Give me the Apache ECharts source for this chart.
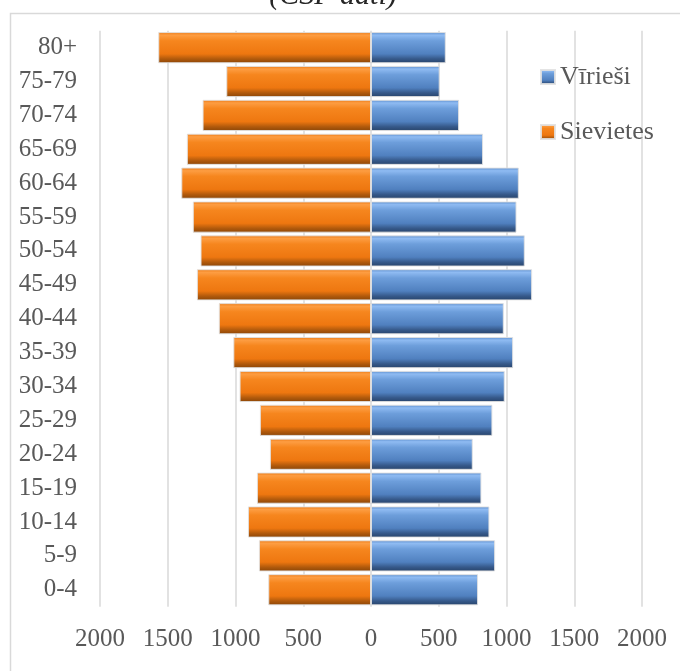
<!DOCTYPE html>
<html>
<head>
<meta charset="utf-8">
<script src="https://cdn.jsdelivr.net/npm/echarts@6/dist/echarts.min.js"></script>
<style>
html,body{margin:0;padding:0;background:#fff;}
#c{width:680px;height:671px;}
</style>
</head>
<body>
<div id="c"></div>
<script>
var categories = ['0-4','5-9','10-14','15-19','20-24','25-29','30-34','35-39','40-44','45-49','50-54','55-59','60-64','65-69','70-74','75-79','80+'];
var maleValues = [790, 916, 874, 815, 751, 896, 987, 1049, 980, 1189, 1135, 1074, 1091, 827, 650, 507, 552];
var femaleValues = [758, 827, 908, 842, 746, 820, 970, 1016, 1123, 1285, 1258, 1315, 1400, 1359, 1243, 1068, 1570];
var seriesNames = ['Vīrieši', 'Sievietes'];
var titleText = '(CSP dati)';

var FONT = '"Liberation Serif", "Times New Roman", serif';

function grad(stops) {
  return new echarts.graphic.LinearGradient(0, 0, 0, 1, stops.map(function (s) { return { offset: s[0], color: s[1] }; }));
}
var blueFill = grad([[0, '#5a8ccc'], [0.1, '#8fbbf2'], [0.28, '#6d9edb'], [0.7, '#5080bf'], [0.86, '#36598a'], [1, '#27436a']]);
var orangeFill = grad([[0, '#ec7811'], [0.1, '#fd9d42'], [0.28, '#f6861e'], [0.7, '#ee7710'], [0.86, '#b25a0c'], [1, '#8a4507']]);

var chart = echarts.init(document.getElementById('c'));
chart.setOption({
  animation: false,
  graphic: [
    {
      type: 'rect',
      shape: { x: 10.5, y: 13.5, width: 720, height: 720 },
      style: { fill: 'none', stroke: '#d9d9d9', lineWidth: 1.5 },
      silent: true
    },
    {
      type: 'text',
      x: 333, y: -4,
      style: {
        text: titleText,
        align: 'center', verticalAlign: 'middle',
        font: 'italic 30px ' + FONT,
        fill: '#262626'
      },
      silent: true
    }
  ],
  legend: {
    orient: 'vertical',
    left: 535,
    top: 59,
    itemWidth: 14,
    itemHeight: 14,
    itemGap: 29,
    icon: 'rect',
    data: seriesNames,
    textStyle: { fontFamily: FONT, fontSize: 26, color: '#595959' }
  },
  grid: { left: 100, right: 38, top: 30.7, bottom: 64.3 },
  xAxis: {
    type: 'value',
    min: -2000, max: 2000, interval: 500,
    axisLine: { show: false },
    axisTick: { show: false },
    splitLine: { show: true, lineStyle: { color: '#d9d9d9', width: 1.5 } },
    axisLabel: {
      margin: 20,
      fontFamily: FONT, fontSize: 25, color: '#595959',
      formatter: function (v) { return String(Math.abs(v)); }
    }
  },
  yAxis: {
    type: 'category',
    data: categories,
    axisLine: { show: false },
    axisTick: { show: false },
    axisLabel: { margin: 23, fontFamily: FONT, fontSize: 25, color: '#595959' }
  },
  series: [
    {
      name: seriesNames[0],
      type: 'bar',
      data: maleValues,
      barGap: '-100%',
      barCategoryGap: '8%',
      itemStyle: { color: blueFill, borderColor: 'rgba(225,225,225,0.9)', borderWidth: 1 }
    },
    {
      name: seriesNames[1],
      type: 'bar',
      data: femaleValues.map(function (v) { return -v; }),
      barGap: '-100%',
      barCategoryGap: '8%',
      itemStyle: { color: orangeFill, borderColor: 'rgba(225,225,225,0.9)', borderWidth: 1 }
    }
  ]
});
</script>
</body>
</html>
